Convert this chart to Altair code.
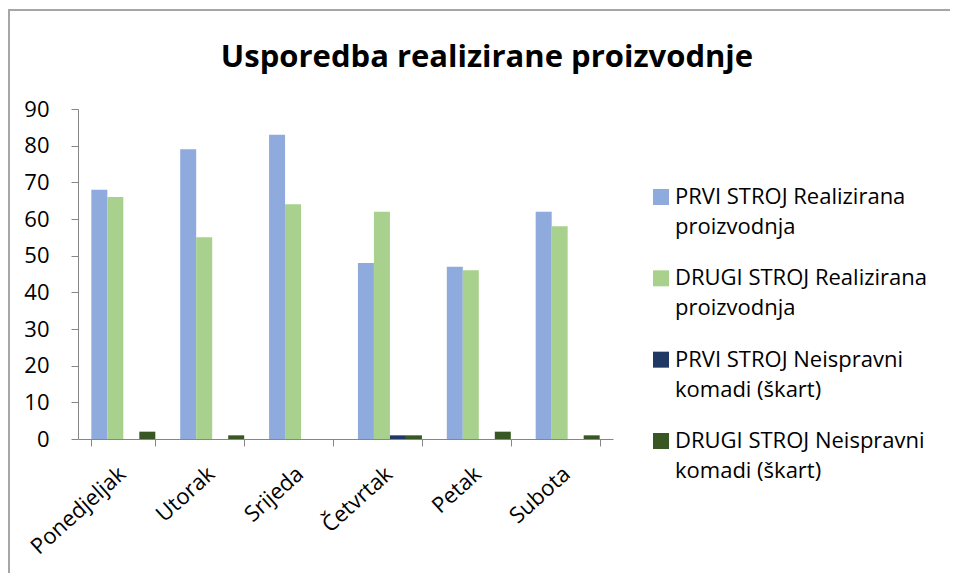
import altair as alt
import pandas as pd

days = ["Ponedjeljak", "Utorak", "Srijeda", "Četvrtak", "Petak", "Subota"]
series = [
    "PRVI STROJ Realizirana proizvodnja",
    "DRUGI STROJ Realizirana proizvodnja",
    "PRVI STROJ Neispravni komadi (škart)",
    "DRUGI STROJ Neispravni komadi (škart)",
]
prvi_real = [68, 79, 83, 48, 47, 62]
drugi_real = [66, 55, 64, 62, 46, 58]
prvi_skart = [0, 0, 0, 1, 0, 0]
drugi_skart = [2, 1, 0, 1, 2, 1]
colors = ["#8FAADC", "#A9D18E", "#203864", "#385723"]
y_ticks = [0, 10, 20, 30, 40, 50, 60, 70, 80, 90]
title_text = "Usporedba realizirane proizvodnje"

rows = []
for s, vals in zip(series, [prvi_real, drugi_real, prvi_skart, drugi_skart]):
    for d, v in zip(days, vals):
        rows.append({"dan": d, "serija": s, "vrijednost": v})
df = pd.DataFrame(rows)

leg = pd.DataFrame({
    "serija": series,
    "red1": [" ".join(s.split(" ")[:3]) for s in series],
    "red2": [" ".join(s.split(" ")[3:]) for s in series],
})

FONT = "Open Sans"
color_scale = alt.Scale(domain=series, range=colors)

bars = alt.Chart(df).mark_bar(stroke=None).encode(
    x=alt.X("dan:N", sort=days, title=None,
            scale=alt.Scale(paddingInner=0.28, paddingOuter=0.15),
            axis=alt.Axis(labelAngle=-42, labelAlign="right", labelBaseline="top",
                          tickBand="extent", tickSize=7, labelPadding=17, labelOffset=-8,
                          labelFontSize=22, labelFont=FONT)),
    xOffset=alt.XOffset("serija:N", sort=series),
    y=alt.Y("vrijednost:Q", title=None,
            scale=alt.Scale(domain=[0, 90], nice=False),
            axis=alt.Axis(values=y_ticks, grid=False, tickSize=7, labelPadding=22,
                          labelFontSize=22, labelFont=FONT)),
    color=alt.Color("serija:N", sort=series, scale=color_scale, legend=None),
)

leg_y = alt.Y("serija:N", sort=series, axis=None,
              scale=alt.Scale(type="point", domain=series, range=[88, 332], padding=0))
leg_base = alt.Chart(leg)
leg_sym = leg_base.mark_point(shape="square", filled=True, size=256, opacity=1).encode(
    x=alt.value(583), y=leg_y,
    color=alt.Color("serija:N", sort=series, scale=color_scale, legend=None))
leg_t1 = leg_base.mark_text(font=FONT, fontSize=22, align="left", baseline="middle",
                            color="black").encode(x=alt.value(597), y=leg_y, text="red1:N")
leg_t2 = leg_base.mark_text(font=FONT, fontSize=22, align="left", baseline="middle",
                            color="black", dy=30).encode(x=alt.value(597), y=leg_y, text="red2:N")
legend = alt.layer(leg_sym, leg_t1, leg_t2)

title = alt.Chart(pd.DataFrame({"t": [title_text]})).mark_text(
    font=FONT, fontSize=31, fontWeight="bold", color="black",
    align="center", baseline="alphabetic",
).encode(text="t:N", x=alt.value(409), y=alt.value(-42))

frame = alt.Chart(pd.DataFrame({"f": [0]})).mark_rect(
    fillOpacity=0, stroke="#A6A6A6", strokeWidth=2
).encode(x=alt.value(-69), x2=alt.value(960), y=alt.value(-99), y2=alt.value(700))

chart = alt.layer(frame, title, bars, legend).resolve_scale(
    y="independent"
).properties(
    width=535, height=330,
    autosize=alt.AutoSizeParams(type="none"),
    padding={"left": 70, "top": 101, "right": 337, "bottom": 134},
).configure_view(stroke=None).configure_axis(
    domainColor="#868686", tickColor="#868686", labelColor="black"
)

chart.save("out.html", embed_options={"renderer": "svg", "actions": False})
